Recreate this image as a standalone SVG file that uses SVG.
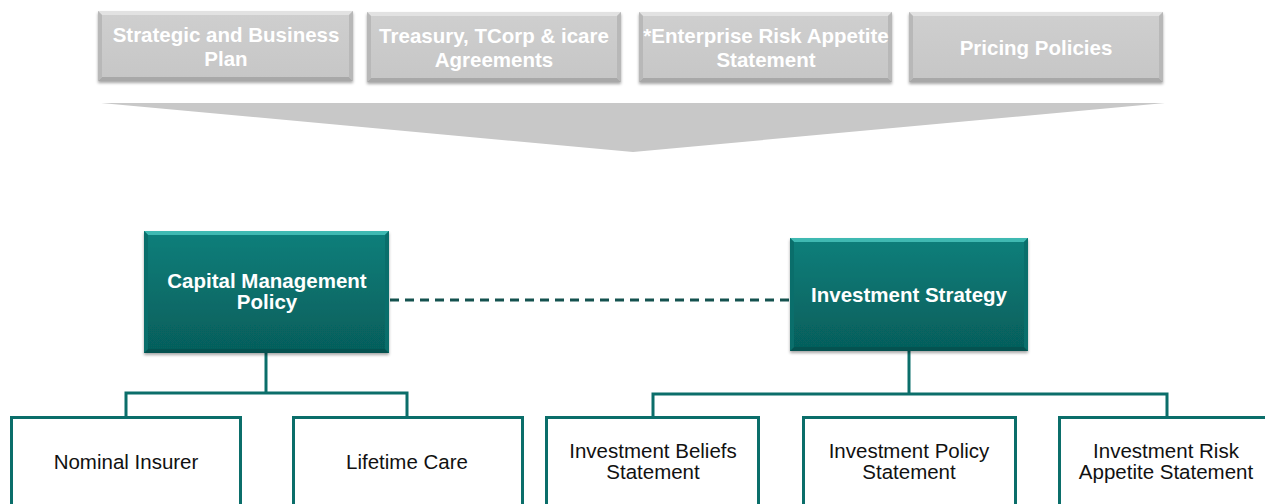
<svg xmlns="http://www.w3.org/2000/svg" width="1265" height="504" viewBox="0 0 1265 504">
<defs>
<linearGradient id="teal" x1="0" y1="0" x2="0" y2="1">
<stop offset="0" stop-color="#0a7f7b"/>
<stop offset="1" stop-color="#065e5b"/>
</linearGradient>
<linearGradient id="gray" x1="0" y1="0" x2="0" y2="1">
<stop offset="0" stop-color="#cfcfcf"/>
<stop offset="1" stop-color="#c6c6c6"/>
</linearGradient>
<filter id="sh" x="-5%" y="-5%" width="110%" height="120%">
<feDropShadow dx="0" dy="2" stdDeviation="1.5" flood-color="#000" flood-opacity="0.35"/>
</filter>
</defs>
<style>
.gbox{fill:url(#gray);filter:url(#sh)}
.gtop{fill:#e2e2e2}
.gbot{fill:#a8a8a8}
.gside{fill:#b8b8b8}
.tbox{fill:url(#teal);filter:url(#sh)}
.ttop{fill:#3fb9b2}
.tbot{fill:#055250}
.tside{fill:#0a6e6b}
.gt{font-family:"Liberation Sans",Arial,sans-serif;font-weight:bold;font-size:20.5px;fill:#fff;text-anchor:middle}
.tt{font-family:"Liberation Sans",Arial,sans-serif;font-weight:bold;font-size:20.5px;fill:#fff;text-anchor:middle}
.leaf{fill:#fff;stroke:#0b6e6a;stroke-width:3}
.lt{font-family:"Liberation Sans",Arial,sans-serif;font-size:20.5px;fill:#111;text-anchor:middle}
.conn{fill:none;stroke:#0b6e6a;stroke-width:3}
.dash{fill:none;stroke:#14524f;stroke-width:3;stroke-dasharray:9 6}
</style>
<rect width="1265" height="504" fill="#fff"/>

<g id="top1">
<rect class="gbox" x="98" y="11" width="255" height="70"/>
<polygon class="gtop" points="98,11 353,11 349,15 102,15"/>
<polygon class="gbot" points="98,81 353,81 349,77 102,77"/>
<polygon class="gside" points="98,11 102,15 102,77 98,81"/>
<polygon class="gside" points="353,11 349,15 349,77 353,81"/>
<text class="gt" x="226" y="42">Strategic and Business</text>
<text class="gt" x="226" y="66">Plan</text>
</g>
<g id="top2">
<rect class="gbox" x="367" y="12" width="254" height="70"/>
<polygon class="gtop" points="367,12 621,12 617,16 371,16"/>
<polygon class="gbot" points="367,82 621,82 617,78 371,78"/>
<polygon class="gside" points="367,12 371,16 371,78 367,82"/>
<polygon class="gside" points="621,12 617,16 617,78 621,82"/>
<text class="gt" x="494" y="43">Treasury, TCorp &amp; icare</text>
<text class="gt" x="494" y="67">Agreements</text>
</g>
<g id="top3">
<rect class="gbox" x="639" y="12" width="253" height="70"/>
<polygon class="gtop" points="639,12 892,12 888,16 643,16"/>
<polygon class="gbot" points="639,82 892,82 888,78 643,78"/>
<polygon class="gside" points="639,12 643,16 643,78 639,82"/>
<polygon class="gside" points="892,12 888,16 888,78 892,82"/>
<text class="gt" x="766" y="43">*Enterprise Risk Appetite</text>
<text class="gt" x="766" y="67">Statement</text>
</g>
<g id="top4">
<rect class="gbox" x="909" y="12" width="254" height="70"/>
<polygon class="gtop" points="909,12 1163,12 1159,16 913,16"/>
<polygon class="gbot" points="909,82 1163,82 1159,78 913,78"/>
<polygon class="gside" points="909,12 913,16 913,78 909,82"/>
<polygon class="gside" points="1163,12 1159,16 1159,78 1163,82"/>
<text class="gt" x="1036" y="55">Pricing Policies</text>
</g>

<g id="funnel">
<polygon points="101,103 1165,103 633,152" fill="#c8c8c8"/>
</g>

<g id="connectors">
<line class="dash" x1="390" y1="300" x2="790" y2="300"/>
<polyline class="conn" points="266,353 266,393"/>
<polyline class="conn" points="126,417 126,393 407,393 407,417"/>
<polyline class="conn" points="909,351 909,394"/>
<polyline class="conn" points="653,417 653,394 1167,394 1167,417"/>
</g>

<g id="capital">
<rect class="tbox" x="144" y="231" width="245" height="122"/>
<polygon class="ttop" points="144,231 389,231 385,235 148,235"/>
<polygon class="tbot" points="144,353 389,353 385,349 148,349"/>
<polygon class="tside" points="144,231 148,235 148,349 144,353"/>
<polygon class="tside" points="389,231 385,235 385,349 389,353"/>
<text class="tt" x="267" y="288">Capital Management</text>
<text class="tt" x="267" y="309">Policy</text>
</g>
<g id="invstrat">
<rect class="tbox" x="790" y="238" width="238" height="113"/>
<polygon class="ttop" points="790,238 1028,238 1024,242 794,242"/>
<polygon class="tbot" points="790,351 1028,351 1024,347 794,347"/>
<polygon class="tside" points="790,238 794,242 794,347 790,351"/>
<polygon class="tside" points="1028,238 1024,242 1024,347 1028,351"/>
<text class="tt" x="909" y="302">Investment Strategy</text>
</g>

<g id="nominal">
<rect class="leaf" x="11.5" y="417.5" width="229" height="100"/>
<text class="lt" x="126" y="469">Nominal Insurer</text>
</g>
<g id="lifetime">
<rect class="leaf" x="293.5" y="417.5" width="229" height="100"/>
<text class="lt" x="407" y="469">Lifetime Care</text>
</g>
<g id="beliefs">
<rect class="leaf" x="546.5" y="417.5" width="212" height="100"/>
<text class="lt" x="653" y="458">Investment Beliefs</text>
<text class="lt" x="653" y="479">Statement</text>
</g>
<g id="policy">
<rect class="leaf" x="803.5" y="417.5" width="212" height="100"/>
<text class="lt" x="909" y="458">Investment Policy</text>
<text class="lt" x="909" y="479">Statement</text>
</g>
<g id="riskapp">
<rect class="leaf" x="1059.5" y="417.5" width="220" height="100"/>
<text class="lt" x="1166" y="458">Investment Risk</text>
<text class="lt" x="1166" y="479">Appetite Statement</text>
</g>
</svg>
